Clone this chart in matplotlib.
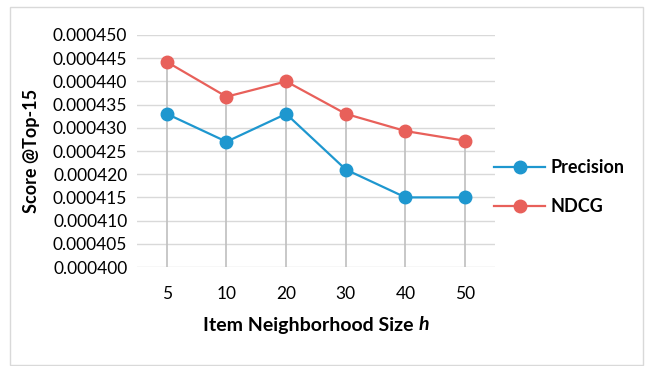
import numpy as np
import matplotlib.pyplot as plt
from matplotlib.patches import Rectangle

plt.rcParams['font.family'] = ['Lato', 'DejaVu Sans']

sizes = ['5', '10', '20', '30', '40', '50']
precision = [0.000433, 0.000427, 0.000433, 0.000421, 0.000415, 0.000415]
ndcg = [0.0004442, 0.0004367, 0.000440, 0.000433, 0.0004293, 0.0004272]
yticks = np.arange(0.000400, 0.0004501, 0.000005)

blue = '#1E97CF'
red = '#E8605A'

fig = plt.figure(figsize=(6.48, 3.66), dpi=100)
fig.patches.append(Rectangle((10/648, 1/366), 633/648, 358/366, transform=fig.transFigure,
                             fill=False, edgecolor='#D9D9D9', linewidth=1))
ax = fig.add_axes([137/648, 1-267/366, 358/648, 232/366])

x = np.arange(len(sizes))
ax.set_xlim(-0.5, len(sizes) - 0.5)
ax.set_ylim(0.000400, 0.000450)

for yt in yticks:
    ax.axhline(yt, color='#D9D9D9', linewidth=1.0, zorder=1)

# drop lines from the upper series down to the axis
top = np.maximum(precision, ndcg)
ax.vlines(x, 0.000400, top, color='#BFBFBF', linewidth=1.2, zorder=2)

ax.plot(x, precision, color=blue, linewidth=1.6, marker='o', markersize=9, label='Precision', zorder=3)
ax.plot(x, ndcg, color=red, linewidth=1.6, marker='o', markersize=9, label='NDCG', zorder=3)

ax.set_xticks(x)
ax.set_xticklabels(sizes)
ax.set_yticks(yticks)
ax.set_yticklabels(['%.6f' % v for v in yticks])
ax.tick_params(axis='both', length=0, labelsize=12.5, colors='#000000')
ax.tick_params(axis='x', pad=14)
ax.tick_params(axis='y', pad=7)
for s in ax.spines.values():
    s.set_visible(False)

ax.set_ylabel('Score @Top-15', fontsize=13, fontweight='bold', labelpad=9)

# x label, with italic h
t1 = fig.text(0.5, 0.5, 'Item Neighborhood Size ', fontsize=14, fontweight='bold', va='center')
t2 = fig.text(0.5, 0.5, 'h', fontsize=14, fontweight='bold', style='italic', va='center')
fig.canvas.draw()
r = fig.canvas.get_renderer()
w1 = t1.get_window_extent(r).width
w2 = t2.get_window_extent(r).width
cx = 316
ycen = 1 - 325/366
t1.set_position(((cx - (w1 + w2)/2)/648, ycen))
t2.set_position(((cx - (w1 + w2)/2 + w1)/648, ycen))

fig.legend(loc='center left', bbox_to_anchor=(478/648, 1-187/366), frameon=False,
           handlelength=2.8, labelspacing=1.2, handletextpad=0.3,
           prop={'size': 13, 'weight': 'bold'})

fig.savefig('out.png', dpi=100)
